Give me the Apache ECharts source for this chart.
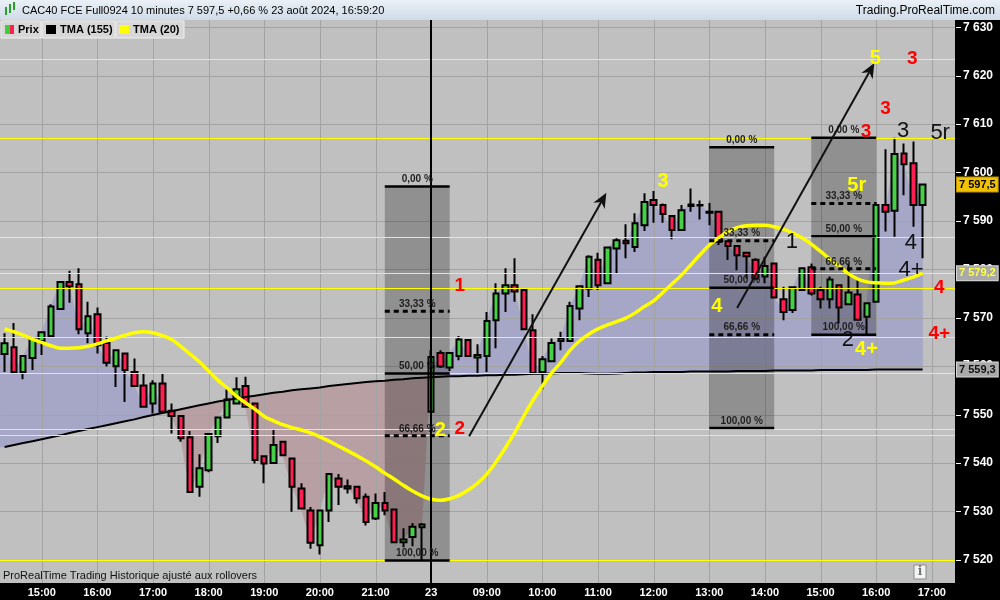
<!DOCTYPE html>
<html>
<head>
<meta charset="utf-8">
<title>CAC40 FCE Full0924 10 minutes</title>
<script src="https://cdn.jsdelivr.net/npm/echarts@6/dist/echarts.min.js"></script>
<style>
  html, body { margin: 0; padding: 0; background: #000; }
  #chart { width: 1000px; height: 600px; }
</style>
</head>
<body>
<div id="chart"></div>
<script>
// ---- Sessions (10-minute bars) ----
const sessionDays = ['22', '23'];
const sessionFirstBar = ['14:20', '08:00'];
const sessionBars = [46, 54];
const emptySlotsAfter = 3;           // room on the right after the last bar

// ---- Prices ----
const opens = [
  7562.5, 7563.9, 7558.8, 7561.7, 7565.2, 7566.2, 7571.8, 7577.4, 7576.9, 7566.8,
  7570.7, 7564.8, 7560.0, 7562.6, 7558.8, 7556.0, 7552.3, 7556.4, 7550.8, 7549.7,
  7545.3, 7535.1, 7538.5, 7545.5, 7549.4, 7552.3, 7555.9, 7552.3, 7541.4, 7540.0,
  7544.4, 7540.9, 7534.7, 7530.2, 7523.0, 7530.2, 7536.8, 7535.2, 7535.1, 7533.0,
  7528.5, 7531.7, 7530.4, 7523.6, 7524.7, 7526.7, 7550.6, 7562.7, 7559.7, 7562.1,
  7565.4, 7561.8, 7562.1, 7569.5, 7575.0, 7576.7, 7575.7, 7567.4, 7558.8, 7561.0,
  7565.2, 7565.2, 7571.9, 7576.0, 7582.0, 7577.1, 7584.3, 7585.9, 7584.6, 7589.1,
  7594.3, 7593.3, 7591.0, 7588.1, 7593.1, 7593.3, 7591.9, 7591.9, 7585.8, 7584.8,
  7583.4, 7582.0, 7578.5, 7581.2, 7573.8, 7571.6, 7575.7, 7580.4, 7575.7, 7573.8,
  7576.7, 7572.8, 7574.8, 7570.2, 7573.3, 7593.3, 7592.1, 7603.9, 7601.9, 7593.3
];
const highs = [
  7566.8, 7568.9, 7562.1, 7566.0, 7567.1, 7572.8, 7577.6, 7579.7, 7580.2, 7573.3,
  7572.1, 7566.1, 7563.3, 7562.8, 7561.6, 7558.5, 7557.1, 7558.6, 7552.3, 7549.9,
  7546.6, 7541.8, 7546.0, 7549.4, 7555.2, 7557.7, 7557.8, 7552.5, 7541.6, 7546.9,
  7544.5, 7541.0, 7535.8, 7530.9, 7530.2, 7537.7, 7537.7, 7536.6, 7535.2, 7533.7,
  7533.7, 7534.0, 7530.5, 7526.5, 7527.6, 7527.6, 7563.3, 7563.3, 7562.7, 7566.2,
  7565.5, 7564.5, 7571.2, 7577.1, 7580.2, 7582.3, 7575.8, 7570.7, 7562.1, 7565.7,
  7567.1, 7573.3, 7576.7, 7582.9, 7583.4, 7584.5, 7586.4, 7589.3, 7591.6, 7595.7,
  7596.2, 7593.6, 7591.1, 7593.3, 7596.7, 7594.2, 7593.7, 7592.0, 7585.9, 7584.9,
  7583.5, 7582.3, 7582.6, 7581.3, 7576.4, 7576.3, 7580.4, 7581.2, 7576.4, 7578.5,
  7576.8, 7581.2, 7577.8, 7573.0, 7593.9, 7604.8, 7607.2, 7606.0, 7606.4, 7597.5
];
const lows = [
  7558.8, 7558.8, 7557.3, 7559.2, 7562.3, 7566.1, 7571.8, 7573.1, 7566.6, 7564.7,
  7562.6, 7559.9, 7555.7, 7552.6, 7555.9, 7551.6, 7550.2, 7550.2, 7546.1, 7544.4,
  7534.0, 7533.0, 7538.1, 7544.1, 7549.4, 7552.3, 7551.6, 7539.9, 7535.8, 7540.0,
  7541.6, 7529.9, 7530.6, 7522.3, 7521.1, 7527.8, 7531.3, 7533.7, 7531.6, 7527.1,
  7528.2, 7529.2, 7523.6, 7522.6, 7522.8, 7519.9, 7550.4, 7559.6, 7559.0, 7561.2,
  7562.1, 7558.6, 7558.8, 7563.7, 7571.2, 7573.3, 7567.6, 7558.3, 7555.2, 7561.0,
  7563.3, 7565.0, 7569.5, 7574.3, 7575.7, 7577.0, 7579.2, 7582.3, 7583.6, 7587.9,
  7589.6, 7589.6, 7586.2, 7588.0, 7591.9, 7590.3, 7589.1, 7585.0, 7581.9, 7579.8,
  7578.1, 7577.8, 7577.1, 7574.2, 7569.5, 7571.0, 7575.5, 7574.6, 7571.9, 7571.9,
  7568.8, 7572.7, 7569.6, 7566.5, 7573.2, 7587.8, 7586.7, 7595.3, 7588.8, 7582.3
];
const closes = [
  7564.7, 7558.8, 7562.1, 7565.7, 7567.0, 7572.3, 7577.4, 7576.5, 7567.6, 7570.3,
  7564.3, 7560.7, 7563.3, 7559.2, 7555.9, 7551.6, 7556.4, 7550.6, 7549.7, 7545.1,
  7534.0, 7538.9, 7546.0, 7549.4, 7553.1, 7555.2, 7551.6, 7540.6, 7539.9, 7543.7,
  7541.6, 7535.1, 7530.6, 7523.5, 7530.2, 7537.7, 7535.1, 7534.7, 7532.7, 7527.8,
  7531.7, 7530.2, 7523.6, 7524.2, 7526.8, 7527.3, 7561.9, 7559.9, 7562.7, 7565.5,
  7562.1, 7562.3, 7569.3, 7575.0, 7576.7, 7575.4, 7567.6, 7558.6, 7561.4, 7564.8,
  7565.7, 7572.4, 7576.5, 7582.6, 7576.7, 7584.5, 7586.0, 7585.4, 7589.5, 7593.9,
  7593.3, 7591.4, 7588.1, 7592.2, 7593.4, 7593.2, 7591.7, 7585.7, 7584.8, 7582.9,
  7582.7, 7578.1, 7580.7, 7574.2, 7571.2, 7576.3, 7580.2, 7575.0, 7573.8, 7577.9,
  7572.1, 7575.2, 7569.6, 7573.0, 7593.3, 7591.9, 7603.8, 7601.7, 7593.3, 7597.5
];

// ---- Moving averages ----
const tma155 = [
  7543.3, 7543.7, 7544.1, 7544.5, 7544.9, 7545.3, 7545.7, 7546.2, 7546.6, 7547.0,
  7547.4, 7547.8, 7548.2, 7548.6, 7549.0, 7549.5, 7549.9, 7550.3, 7550.7, 7551.1,
  7551.5, 7551.9, 7552.3, 7552.7, 7553.0, 7553.3, 7553.6, 7553.9, 7554.2, 7554.5,
  7554.7, 7555.0, 7555.2, 7555.4, 7555.6, 7555.9, 7556.1, 7556.3, 7556.5, 7556.7,
  7556.9, 7557.0, 7557.2, 7557.3, 7557.5, 7557.6, 7557.7, 7557.8, 7557.9, 7557.9,
  7558.0, 7558.0, 7558.1, 7558.1, 7558.2, 7558.2, 7558.3, 7558.4, 7558.4, 7558.5,
  7558.6, 7558.6, 7558.6, 7558.5, 7558.4, 7558.4, 7558.5, 7558.6, 7558.7, 7558.7,
  7558.8, 7558.8, 7558.8, 7558.8, 7558.9, 7558.9, 7558.9, 7558.9, 7558.9, 7559.0,
  7559.0, 7559.0, 7559.0, 7559.1, 7559.1, 7559.1, 7559.1, 7559.1, 7559.2, 7559.2,
  7559.2, 7559.2, 7559.2, 7559.2, 7559.3, 7559.3, 7559.3, 7559.3, 7559.3, 7559.3
];
const tma20 = [
  7567.7, 7567.1, 7566.4, 7565.6, 7564.9, 7564.2, 7563.7, 7563.7, 7563.8, 7564.1,
  7564.6, 7565.2, 7565.8, 7566.4, 7566.9, 7567.1, 7566.9, 7566.3, 7565.5, 7564.1,
  7562.5, 7560.9, 7559.0, 7557.1, 7555.5, 7553.8, 7552.4, 7551.1, 7549.6, 7548.7,
  7547.9, 7547.3, 7546.8, 7546.2, 7545.4, 7544.5, 7543.5, 7542.5, 7541.5, 7540.4,
  7539.2, 7537.9, 7536.7, 7535.4, 7534.2, 7533.2, 7532.5, 7532.3, 7532.6, 7533.3,
  7534.4, 7535.8, 7537.7, 7540.2, 7543.1, 7546.2, 7549.7, 7553.0, 7555.9, 7558.6,
  7560.8, 7563.3, 7565.2, 7566.6, 7567.7, 7568.5, 7569.2, 7569.9, 7571.0, 7572.3,
  7573.5, 7575.2, 7577.0, 7578.8, 7580.9, 7583.0, 7585.0, 7586.5, 7587.8, 7588.6,
  7589.0, 7589.1, 7589.1, 7588.8, 7588.3, 7587.5, 7586.5, 7585.2, 7583.7, 7582.1,
  7580.6, 7579.1, 7578.0, 7577.4, 7577.2, 7577.1, 7577.2, 7577.8, 7578.4, 7579.2
];

// ---- Axis ticks ----
const priceTicks = [7520, 7530, 7540, 7550, 7560, 7570, 7580, 7590, 7600, 7610, 7620, 7630];

// ---- Drawn horizontal levels ----
const levelLines = [7623.5, 7607.2, 7586.7, 7579.3, 7576.2, 7566.1, 7558.6, 7547.1, 7545.7, 7519.9];

// ---- Fibonacci retracements (bar span, level prices) ----
const fibNames = ['0,00 %', '33,33 %', '50,00 %', '66,66 %', '100,00 %'];
const fibSpans = [[41, 48], [76, 83], [87, 94]];
const fibLevels = [
  [7597.1, 7571.35, 7558.5, 7545.6, 7519.85],
  [7605.2, 7585.9, 7576.2, 7566.5, 7547.2],
  [7607.2, 7593.6, 7586.85, 7580.1, 7566.5]
];

// ---- Trend arrows [from, to] as [bar, price] ----
const arrows = [
  [[50.1, 7545.5], [64.9, 7595.8]],
  [[79.0, 7572.0], [93.8, 7622.6]]
];

// ---- Wave counts: text, bar, price, kind ----
const waveMarks = [
  ['1', 49.1, 7576.7, 'red'],
  ['2', 47.0, 7546.8, 'yellow'],
  ['2', 49.1, 7547.0, 'red'],
  ['3', 71.0, 7598.1, 'yellow'],
  ['4', 76.8, 7572.3, 'yellow'],
  ['1', 84.9, 7585.6, 'black'],
  ['5', 93.9, 7623.5, 'yellow'],
  ['3', 97.9, 7623.5, 'red'],
  ['3', 95.0, 7613.2, 'red'],
  ['3', 92.9, 7608.5, 'red'],
  ['3', 96.9, 7608.5, 'black'],
  ['5r', 100.9, 7608.2, 'black'],
  ['5r', 91.9, 7597.4, 'yellow'],
  ['4', 97.75, 7585.4, 'black'],
  ['4+', 97.75, 7579.9, 'black'],
  ['4', 100.8, 7576.1, 'red'],
  ['4+', 100.8, 7566.6, 'red'],
  ['2', 90.95, 7565.4, 'black'],
  ['4+', 92.95, 7563.5, 'yellow']
];

const lastPrice = 7597.5;
const lastTma20 = 7579.2;
const lastTma155 = 7559.3;
const sessionBreak = sessionBars[0];

// ---- Build categories ----
function addMinutes(hhmm, m) {
  const [h, mm] = hhmm.split(':').map(Number);
  const t = h * 60 + mm + m;
  return String(Math.floor(t / 60)).padStart(2, '0') + ':' + String(t % 60).padStart(2, '0');
}
const categories = [];
sessionDays.forEach((d, s) => {
  const n = sessionBars[s] + (s === sessionDays.length - 1 ? emptySlotsAfter : 0);
  for (let k = 0; k < n; k++) categories.push(d + ' ' + addMinutes(sessionFirstBar[s], 10 * k));
});
const hourIdx = categories.map((c, i) => (c.endsWith(':00') ? i : -1)).filter(i => i >= 0);
const candleData = opens.map((o, i) => [o, closes[i], lows[i], highs[i]]);

const Y_MIN = 7515.2, Y_MAX = 7631.5;
const X_MIN = -0.5, X_MAX = categories.length - 0.5;

const LAV = '#a6a6c6', PINK = '#b79fa3';
const FONT = '"Liberation Sans", Arial, sans-serif';

function fmtPrice(v) {
  const s = v.toFixed(0);
  return s.slice(0, s.length - 3) + ' ' + s.slice(-3);
}

// Area between price and the long average: lavender above, pink below.
function renderBand(params, api) {
  const xs = [-0.5].concat(closes.map((_, i) => i));
  const cs = [closes[0]].concat(closes);
  const ts = [tma155[0]].concat(tma155);
  const runs = [];
  let cur = [];
  for (let k = 0; k < xs.length; k++) {
    cur.push([xs[k], cs[k], ts[k]]);
    if (k < xs.length - 1) {
      const d0 = cs[k] - ts[k], d1 = cs[k + 1] - ts[k + 1];
      if (d0 * d1 < 0) {
        const t = d0 / (d0 - d1);
        const xm = xs[k] + t * (xs[k + 1] - xs[k]);
        const ym = ts[k] + t * (ts[k + 1] - ts[k]);
        cur.push([xm, ym, ym]);
        runs.push({ pts: cur, up: d0 > 0 });
        cur = [[xm, ym, ym]];
      }
    }
  }
  runs.push({ pts: cur, up: cs[cs.length - 1] - ts[ts.length - 1] > 0 });
  const children = runs.map(r => {
    const top = r.pts.map(p => api.coord([p[0], p[1]]));
    const bot = r.pts.slice().reverse().map(p => api.coord([p[0], p[2]]));
    const col = r.up ? LAV : PINK;
    return { type: 'polygon', shape: { points: top.concat(bot) }, style: { fill: col, stroke: col, lineWidth: 0.6 } };
  });
  return { type: 'group', children };
}

// Chart grid: horizontal at price ticks, vertical at each hour, tick marks on the price scale.
function renderGrid(params, api) {
  const cs = params.coordSys;
  const children = [];
  priceTicks.forEach(v => {
    const y = Math.round(api.coord([0, v])[1]) + 0.5;
    children.push({ type: 'line', shape: { x1: cs.x, y1: y, x2: cs.x + cs.width, y2: y }, style: { stroke: '#a3a3a3', lineWidth: 1 } });
    children.push({ type: 'line', shape: { x1: cs.x + cs.width + 1, y1: y, x2: cs.x + cs.width + 6, y2: y }, style: { stroke: '#fff', lineWidth: 1 } });
  });
  hourIdx.forEach(i => {
    const x = Math.round(api.coord([i, Y_MIN])[0]) + 0.5;
    children.push({ type: 'line', shape: { x1: x, y1: cs.y, x2: x, y2: cs.y + cs.height }, style: { stroke: '#a3a3a3', lineWidth: 1 } });
  });
  return { type: 'group', children };
}

function renderFibShade(params, api) {
  const i = params.dataIndex;
  const [a, b] = fibSpans[i];
  const lv = fibLevels[i];
  const p0 = api.coord([a, lv[0]]), p1 = api.coord([b, lv[4]]);
  return { type: 'rect', shape: { x: p0[0], y: p0[1], width: p1[0] - p0[0], height: p1[1] - p0[1] }, style: { fill: 'rgba(0,0,0,0.25)' } };
}

// Drawings: levels, session divider, retracement lines, arrows and wave counts.
function renderDrawings(params, api) {
  const cs = params.coordSys;
  const children = [];
  levelLines.forEach(v => {
    const y = Math.round(api.coord([0, v])[1]) + 0.5;
    children.push({ type: 'line', shape: { x1: cs.x, y1: y, x2: cs.x + cs.width, y2: y }, style: { stroke: '#ffff00', lineWidth: 1.2 } });
  });
  const sx = Math.round(api.coord([sessionBreak, Y_MIN])[0]);
  children.push({ type: 'line', shape: { x1: sx, y1: cs.y, x2: sx, y2: cs.y + cs.height }, style: { stroke: '#000', lineWidth: 2 } });

  fibSpans.forEach(([a, b], k) => {
    fibLevels[k].forEach((v, j) => {
      const p0 = api.coord([a, v]), p1 = api.coord([b, v]);
      const dashed = j === 1 || j === 3;
      children.push({ type: 'line', shape: { x1: p0[0], y1: p0[1], x2: p1[0], y2: p1[1] },
        style: { stroke: '#000', lineWidth: dashed ? 3 : 2.5, lineDash: dashed ? [5, 4] : null } });
      children.push({ type: 'text', style: { text: fibNames[j], x: (p0[0] + p1[0]) / 2, y: p0[1] - 2,
        align: 'center', verticalAlign: 'bottom', fill: '#1e1e1e', font: 'bold 10px ' + FONT } });
    });
  });

  arrows.forEach(([from, to]) => {
    const p0 = api.coord(from), p1 = api.coord(to);
    const dx = p1[0] - p0[0], dy = p1[1] - p0[1];
    const L = Math.hypot(dx, dy), ux = dx / L, uy = dy / L, nx = -uy, ny = ux;
    const len = 15, w = 6.5;
    const bx = p1[0] - ux * len, by = p1[1] - uy * len;
    const notch = [p1[0] - ux * len * 0.7, p1[1] - uy * len * 0.7];
    children.push({ type: 'line', shape: { x1: p0[0], y1: p0[1], x2: notch[0], y2: notch[1] }, style: { stroke: '#111', lineWidth: 2 } });
    children.push({ type: 'polygon', shape: { points: [p1, [bx + nx * w, by + ny * w], notch, [bx - nx * w, by - ny * w]] }, style: { fill: '#111' } });
  });

  const styles = {
    red: { fill: '#ff0000', font: 'bold 19px ' + FONT },
    yellow: { fill: '#ffff00', font: 'bold 20px ' + FONT },
    black: { fill: '#111', font: '22px ' + FONT }
  };
  waveMarks.forEach(([t, x, v, kind]) => {
    const p = api.coord([x, v]);
    children.push({ type: 'text', style: Object.assign({ text: t, x: p[0], y: p[1], align: 'center', verticalAlign: 'middle' }, styles[kind]) });
  });
  return { type: 'group', children };
}

// Price tags on the right scale, hung on an invisible horizontal mark line.
const tagMarkLine = (value, text, bg, fg, border) => ({
  silent: true, symbol: ['none', 'none'], animation: false,
  lineStyle: { color: 'rgba(0,0,0,0)', width: 0 },
  label: {
    show: true, position: 'end', distance: 2, formatter: text,
    backgroundColor: bg, color: fg, borderColor: border, borderWidth: 1,
    padding: [1, 2, 0, 2], fontFamily: FONT, fontWeight: 'bold', fontSize: 11, lineHeight: 13
  },
  data: [{ yAxis: value }]
});

const chart = echarts.init(document.getElementById('chart'), null, { renderer: 'canvas' });
chart.setOption({
  animation: false,
  backgroundColor: '#000',
  grid: { left: 0, right: 45, top: 20, bottom: 17, show: true, backgroundColor: '#c0c0c0', borderWidth: 0 },
  xAxis: [
    {
      type: 'category', data: categories, boundaryGap: true,
      axisLine: { show: false }, axisTick: { show: false }, splitLine: { show: false },
      axisLabel: {
        interval: (idx, val) => val.endsWith(':00'),
        formatter: (val, idx) => (idx === sessionBreak ? sessionDays[1] : val.slice(3)),
        color: '#fff', fontFamily: FONT, fontWeight: 'bold', fontSize: 11, margin: 4
      }
    },
    { type: 'value', min: X_MIN, max: X_MAX, show: false }
  ],
  yAxis: {
    type: 'value', position: 'right', min: Y_MIN, max: Y_MAX, splitNumber: 12,
    axisLine: { show: false }, axisTick: { show: false }, splitLine: { show: false },
    axisLabel: {
      color: '#fff', fontFamily: FONT, fontWeight: 'bold', fontSize: 12, margin: 8,
      formatter: v => (Math.abs(v % 10) < 1e-6 ? fmtPrice(v) : '')
    }
  },
  series: [
    { type: 'custom', name: 'band', xAxisIndex: 1, z: 1, silent: true, data: [[0, 7560]], renderItem: renderBand },
    { type: 'custom', name: 'grid', xAxisIndex: 1, z: 1.2, silent: true, data: [[0, 7560]], renderItem: renderGrid },
    { type: 'custom', name: 'fibShade', xAxisIndex: 1, z: 1.5, silent: true,
      data: fibSpans.map((s, i) => [s[0], fibLevels[i][0]]), renderItem: renderFibShade },
    {
      type: 'candlestick', name: 'Prix', xAxisIndex: 0, z: 3, data: candleData, barWidth: 6,
      itemStyle: { color: '#45d145', color0: '#ff1f50', borderColor: '#000', borderColor0: '#000', borderColorDoji: '#000', borderWidth: 2 },
      markLine: tagMarkLine(lastPrice, '7 597,5', '#f2c200', '#000', '#b89000')
    },
    {
      type: 'line', name: 'TMA (155)', xAxisIndex: 0, z: 4, data: tma155, showSymbol: false, silent: true,
      lineStyle: { color: '#000', width: 2 },
      markLine: tagMarkLine(lastTma155, '7 559,3', '#a9a9a9', '#111', '#d8d8d8')
    },
    {
      type: 'line', name: 'TMA (20)', xAxisIndex: 0, z: 4, data: tma20, showSymbol: false, silent: true, smooth: 0.3,
      lineStyle: { color: '#ffff00', width: 3.5 },
      markLine: tagMarkLine(lastTma20, '7 579,2', '#a9a9a9', '#ffff40', '#d8d8d8')
    },
    { type: 'custom', name: 'drawings', xAxisIndex: 1, z: 6, silent: true, data: [[0, 7560]], renderItem: renderDrawings }
  ],
  graphic: [
    // title bar
    { type: 'rect', z: 100, shape: { x: 0, y: 0, width: 1000, height: 20 },
      style: { fill: { type: 'linear', x: 0, y: 0, x2: 0, y2: 1, colorStops: [{ offset: 0, color: '#eaf0f6' }, { offset: 1, color: '#cfdbe6' }] } } },
    { type: 'rect', z: 101, shape: { x: 5, y: 7, width: 2, height: 8 }, style: { fill: '#2aa02a' } },
    { type: 'rect', z: 101, shape: { x: 9, y: 4, width: 2, height: 9 }, style: { fill: '#2aa02a' } },
    { type: 'rect', z: 101, shape: { x: 13, y: 2, width: 2, height: 8 }, style: { fill: '#2aa02a' } },
    { type: 'text', z: 101, style: { text: 'CAC40 FCE Full0924 10 minutes 7 597,5 +0,66 % 23 août 2024, 16:59:20', x: 22, y: 11, verticalAlign: 'middle', fill: '#000', font: '11px ' + FONT } },
    { type: 'text', z: 101, style: { text: 'Trading.ProRealTime.com', x: 995, y: 11, align: 'right', verticalAlign: 'middle', fill: '#000', font: '12px ' + FONT } },
    // series legend
    { type: 'rect', z: 100, shape: { x: 1, y: 21, width: 40, height: 17 }, style: { fill: '#d7d7d7', stroke: '#efefef', lineWidth: 1 } },
    { type: 'rect', z: 101, shape: { x: 5, y: 25, width: 5, height: 9 }, style: { fill: '#3ccf3c' } },
    { type: 'rect', z: 101, shape: { x: 10, y: 25, width: 4, height: 9 }, style: { fill: '#ff1f50' } },
    { type: 'text', z: 101, style: { text: 'Prix', x: 18, y: 30, verticalAlign: 'middle', fill: '#000', font: 'bold 11px ' + FONT } },
    { type: 'rect', z: 100, shape: { x: 42, y: 21, width: 73, height: 17 }, style: { fill: '#d7d7d7', stroke: '#efefef', lineWidth: 1 } },
    { type: 'rect', z: 101, shape: { x: 46, y: 25, width: 10, height: 9 }, style: { fill: '#000' } },
    { type: 'text', z: 101, style: { text: 'TMA (155)', x: 60, y: 30, verticalAlign: 'middle', fill: '#000', font: 'bold 11px ' + FONT } },
    { type: 'rect', z: 100, shape: { x: 116, y: 21, width: 68, height: 17 }, style: { fill: '#d7d7d7', stroke: '#efefef', lineWidth: 1 } },
    { type: 'rect', z: 101, shape: { x: 119, y: 25, width: 10, height: 9 }, style: { fill: '#ffff00' } },
    { type: 'text', z: 101, style: { text: 'TMA (20)', x: 133, y: 30, verticalAlign: 'middle', fill: '#000', font: 'bold 11px ' + FONT } },
    // footer
    { type: 'text', z: 101, style: { text: 'ProRealTime Trading Historique ajusté aux rollovers', x: 3, y: 576, verticalAlign: 'middle', fill: '#111', font: '11px ' + FONT } },
    { type: 'rect', z: 101, shape: { x: 914, y: 565, width: 12, height: 14 }, style: { fill: '#f4f4f4', stroke: '#8a8a8a', lineWidth: 1 } },
    { type: 'text', z: 102, style: { text: 'i', x: 920, y: 572, align: 'center', verticalAlign: 'middle', fill: '#777', font: 'bold 12px "DejaVu Serif", serif' } }
  ]
});
</script>
</body>
</html>
